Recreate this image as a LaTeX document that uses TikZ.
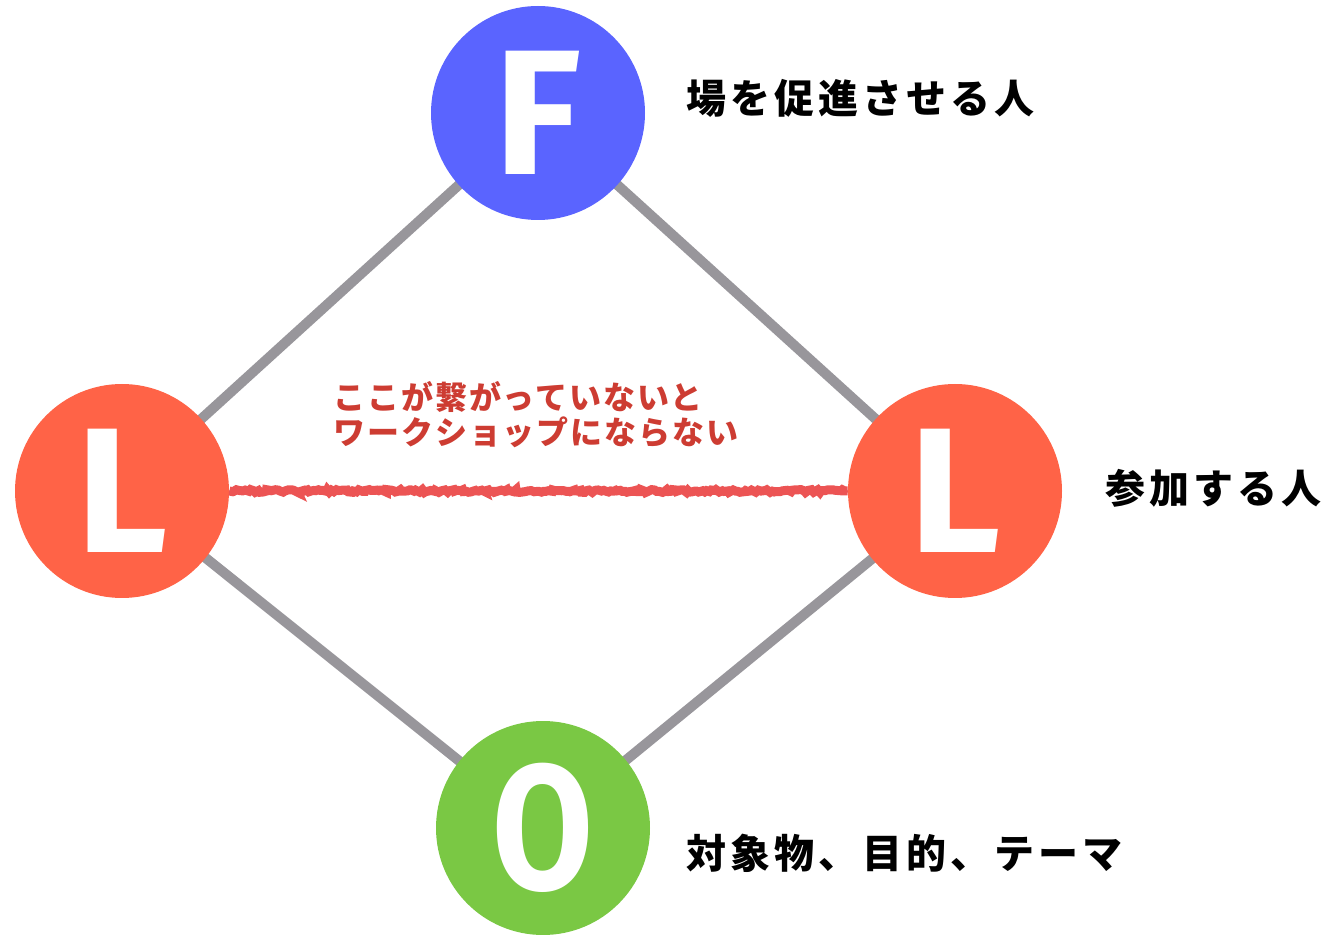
\documentclass[tikz,border=0pt]{standalone}
\usepackage{fontspec}
\usepackage{graphicx}
\setmainfont{Fira Sans}
\newfontfamily\jp[LetterSpace=10]{Noto Sans CJK JP}
\newfontfamily\jpnote[LetterSpace=6]{Noto Sans CJK JP}
\usetikzlibrary{backgrounds,decorations.pathmorphing}
\definecolor{fblue}{RGB}{90,100,255}
\definecolor{lred}{RGB}{255,99,71}
\definecolor{ogreen}{RGB}{122,200,68}
\definecolor{edgegray}{RGB}{152,150,155}
\definecolor{notered}{RGB}{205,60,50}
\definecolor{linered}{RGB}{236,84,84}
\begin{document}
\begin{tikzpicture}[x=0.5pt,y=-0.5pt,
  ball/.style={circle,minimum size=107pt,inner sep=0pt,text=white,font=\fontsize{89}{89}\selectfont\bfseries},
  edge/.style={draw=edgegray,line width=5pt},
  desc/.style={anchor=west,inner sep=0pt,text=black,font=\jp\bfseries\fontsize{20}{24}\selectfont},
  note/.style={anchor=north west,inner sep=0pt,align=left,text=notered,font=\jpnote\bfseries\fontsize{16}{17.5}\selectfont},
  rough/.style={draw=linered,line width=#1,decorate,decoration={random steps,segment length=1.2pt,amplitude=0.7pt}}
]
\useasboundingbox (0,0) rectangle (1329,935);
\node[ball,fill=fblue] (F) at (538,113) {F};
\node[ball,fill=lred] (L1) at (122,491) {L};
\node[ball,fill=lred] (L2) at (955,491) {L};
\node[ball,fill=ogreen] (O) at (543,828) {\scalebox{0.82}[1]{O}};
\begin{scope}[on background layer]
\draw[edge] (F.center) -- (L1.center);
\draw[edge] (F.center) -- (L2.center);
\draw[edge] (O.center) -- (L1.center);
\draw[edge] (O.center) -- (L2.center);
\end{scope}
\draw[rough=4.5pt] (L1.east) -- (L2.west);
\draw[rough=1.2pt,yshift=-4pt] (L1.east) -- (L2.west);
\draw[rough=1.2pt,yshift=4pt] (L1.east) -- (L2.west);
\node[note] (N) at (333,381) {ここが繋がっていないと\\ワークショップにならない};
\node[desc] (tF) at (686,98) {場を促進させる人};
\node[desc] (tL) at (1105,488) {参加する人};
\node[desc] (tO) at (686,853) {対象物、目的、テーマ};
\end{tikzpicture}
\end{document}
